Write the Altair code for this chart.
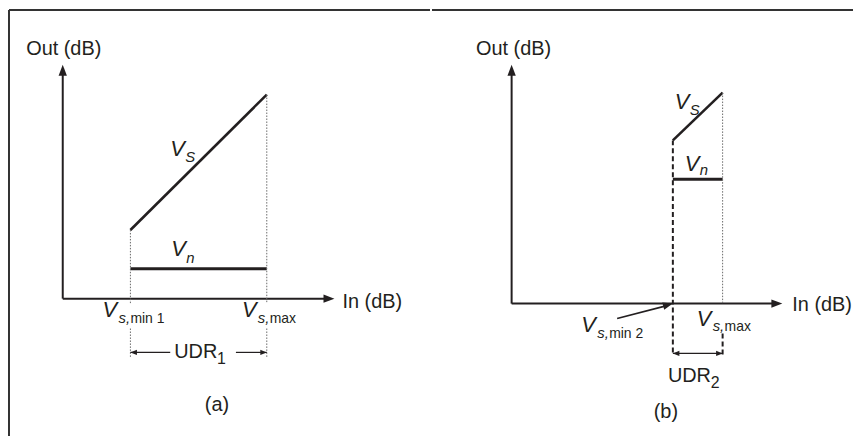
import math
import altair as alt
import pandas as pd

FONT = "Liberation Sans"
INK = "#231f20"
GUIDE = "#6a6a6a"
PANEL_W, PANEL_H = 423, 428

# ---------------- Panel (a): wide usable dynamic range ----------------
A_X_DOMAIN = [-54, 369]
A_Y_DOMAIN = [-138, 290]
A_AXES = [(0, 0, 0, 228), (0, 0, 266, 0)]
A_SIGNAL = [(68, 69, 205, 205)]           # Vs from Vs,min1 to Vs,max
A_NOISE = [(68, 30, 205, 30)]             # Vn level
A_DOTTED = [(68, 69, 68, -5), (68, -30, 68, -60),
            (205, 205, 205, -5), (205, -30, 205, -60)]
A_DASHED = []
A_THIN = [(68, -54, 108, -54), (174, -54, 205, -54)]
A_POINTER = []
A_AXIS_HEADS = [(273, 0, 0), (0, 235, 270)]
A_SMALL_HEADS = [(68, -54, 180), (205, -54, 0)]
A_POINTER_HEADS = []
A_FRAME = [(-54, 290, 369, 290), (-54, 290, -54, -138)]
A_LABELS = [("Out (dB)", 1, 251, "center", "middle"),
            ("In (dB)", 281, -3, "left", "middle"),
            ("(a)", 155, -107, "center", "middle"),
            ("UDR", 112, -60, "left", "alphabetic")]
A_ITALIC_V = [("V", 108, 143), ("V", 109, 43), ("V", 40, -18), ("V", 180, -18)]
A_ITALIC_SUB = [("S", 123, 137), ("n", 124, 36), ("s,", 56, -24), ("s,", 196, -24)]
A_UPRIGHT_SUB = [("min 1", 68, -24), ("max", 208, -24)]
A_INDEX_SUB = [("1", 155, -66)]

# ---------------- Panel (b): narrow usable dynamic range ----------------
B_X_DOMAIN = [-80, 343]
B_Y_DOMAIN = [-133, 295]
B_AXES = [(0, 0, 0, 233), (0, 0, 265, 0)]
B_SIGNAL = [(162, 164, 212, 212)]
B_NOISE = [(162, 125, 212, 125)]
B_DOTTED = [(212, 212, 212, 0)]
B_DASHED = [(162, 164, 162, -52), (212, -30, 212, -52)]
B_THIN = [(162, -50, 212, -50)]
B_POINTER = [(106, -15, 156, -2)]
B_AXIS_HEADS = [(272, 0, 0), (0, 240, 270)]
B_SMALL_HEADS = [(162, -50, 180), (212, -50, 0)]
B_POINTER_HEADS = [(162, 0, 106, -15)]   # tip x, tip y, from x, from y
B_FRAME = [(-80, 295, 343, 295)]
B_LABELS = [("Out (dB)", 2, 256, "center", "middle"),
            ("In (dB)", 282, -1, "left", "middle"),
            ("(b)", 155, -109, "center", "middle"),
            ("UDR", 157, -79, "left", "alphabetic")]
B_ITALIC_V = [("V", 164, 196), ("V", 174, 133), ("V", 70, -29), ("V", 186, -22)]
B_ITALIC_SUB = [("S", 179, 190), ("n", 189, 129), ("s,", 86, -35), ("s,", 202, -28)]
B_UPRIGHT_SUB = [("min 2", 98, -35), ("max", 214, -28)]
B_INDEX_SUB = [("2", 200, -85)]


def build_panel(xd, yd, axes, signal, noise, dotted, dashed, thin, pointer,
                axis_heads, small_heads, pointer_heads, frame,
                labels, italic_v, italic_sub, upright_sub, index_sub):
    xs = alt.Scale(domain=xd, nice=False, zero=False)
    ys = alt.Scale(domain=yd, nice=False, zero=False)

    def segs(rows, width, color, dash=None):
        df = pd.DataFrame(rows, columns=["x", "y", "x2", "y2"])
        kw = dict(strokeWidth=width, color=color)
        if dash:
            kw["strokeDash"] = dash
        return alt.Chart(df).mark_rule(**kw).encode(
            x=alt.X("x:Q", scale=xs, axis=None),
            y=alt.Y("y:Q", scale=ys, axis=None),
            x2="x2:Q", y2="y2:Q")

    def heads(rows, path, size):
        df = pd.DataFrame(rows, columns=["x", "y", "angle"])
        return alt.Chart(df).mark_point(
            filled=True, shape=path, size=size, color=INK, opacity=1).encode(
            x=alt.X("x:Q", scale=xs, axis=None),
            y=alt.Y("y:Q", scale=ys, axis=None),
            angle=alt.Angle("angle:Q", scale=None))

    def texts(rows, size, italic=False):
        df = pd.DataFrame(rows, columns=["t", "x", "y"])
        kw = dict(font=FONT, fontSize=size, color=INK, align="left",
                  baseline="alphabetic")
        if italic:
            kw["fontStyle"] = "italic"
        return alt.Chart(df).mark_text(**kw).encode(
            x=alt.X("x:Q", scale=xs, axis=None),
            y=alt.Y("y:Q", scale=ys, axis=None),
            text="t:N")

    layers = [segs(frame, 2, "#333333"),
              segs(axes, 2, INK),
              segs(signal, 2.6, INK),
              segs(noise, 3, INK)]
    if dotted:
        layers.append(segs(dotted, 1, GUIDE, [1.5, 1.5]))
    if dashed:
        layers.append(segs(dashed, 2, INK, [5, 3]))
    if thin:
        layers.append(segs(thin, 1.2, INK))
    if pointer:
        layers.append(segs(pointer, 1.6, INK))
    layers.append(heads(axis_heads, "M0,0L-1,-0.38L-1,0.38Z", 484))
    layers.append(heads(small_heads, "M0,0L-1,-0.4L-1,0.4Z", 170))
    if pointer_heads:
        rows = []
        for tx, ty, fx, fy in pointer_heads:
            ang = math.degrees(math.atan2(-(ty - fy), tx - fx)) % 360
            rows.append((tx, ty, ang))
        layers.append(heads(rows, "M0,0L-1,-0.38L-1,0.38Z", 400))

    for t, x, y, al, bl in labels:
        df = pd.DataFrame({"t": [t], "x": [x], "y": [y]})
        layers.append(alt.Chart(df).mark_text(
            font=FONT, fontSize=20, color=INK, align=al, baseline=bl).encode(
            x=alt.X("x:Q", scale=xs, axis=None),
            y=alt.Y("y:Q", scale=ys, axis=None),
            text="t:N"))
    layers.append(texts(italic_v, 22, italic=True))
    layers.append(texts(italic_sub, 15, italic=True))
    layers.append(texts(upright_sub, 14))
    layers.append(texts(index_sub, 16))
    return alt.layer(*layers).properties(width=PANEL_W, height=PANEL_H)


panel_a = build_panel(A_X_DOMAIN, A_Y_DOMAIN, A_AXES, A_SIGNAL, A_NOISE,
                      A_DOTTED, A_DASHED, A_THIN, A_POINTER, A_AXIS_HEADS,
                      A_SMALL_HEADS, A_POINTER_HEADS, A_FRAME, A_LABELS,
                      A_ITALIC_V, A_ITALIC_SUB, A_UPRIGHT_SUB, A_INDEX_SUB)
panel_b = build_panel(B_X_DOMAIN, B_Y_DOMAIN, B_AXES, B_SIGNAL, B_NOISE,
                      B_DOTTED, B_DASHED, B_THIN, B_POINTER, B_AXIS_HEADS,
                      B_SMALL_HEADS, B_POINTER_HEADS, B_FRAME, B_LABELS,
                      B_ITALIC_V, B_ITALIC_SUB, B_UPRIGHT_SUB, B_INDEX_SUB)

chart = alt.hconcat(panel_a, panel_b, spacing=0, padding=0).configure_view(
    strokeWidth=0, stroke="transparent")

chart.save("out.html", embed_options={"renderer": "svg", "actions": False})
